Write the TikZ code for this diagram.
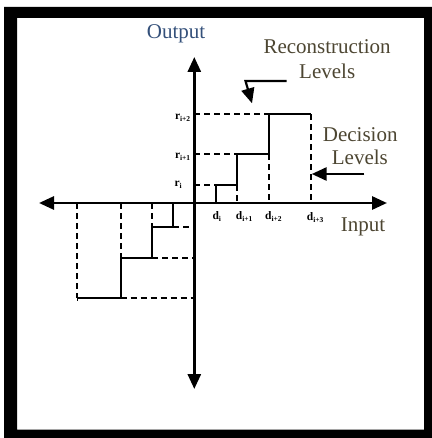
\documentclass[tikz,border=0pt]{standalone}
\usepackage{fontspec}
\setmainfont{Liberation Serif}
\usetikzlibrary{arrows.meta}
\definecolor{outblue}{HTML}{34507A}
\definecolor{olivetxt}{HTML}{4D4632}
\newcommand{\lvl}[2]{{\fontsize{11.5}{11.5}\selectfont\bfseries #1\raisebox{-2pt}{\fontsize{7.5}{7.5}\selectfont #2}}}
\begin{document}
\begin{tikzpicture}[x=1pt,y=-1pt,
  bigtip/.style={-{Triangle[length=15pt,width=13pt]}},
  axisline/.style={line width=2.8pt},
  stair/.style={line width=2pt},
  dashline/.style={line width=1.9pt,dash pattern=on 6pt off 4pt},
  bigtxt/.style={font=\fontsize{21}{24}\selectfont,inner sep=0pt},
  smalltxt/.style={inner sep=0pt,anchor=base west},
]
\useasboundingbox (0,0) rectangle (431,438);
% frame
\fill[black,even odd rule] (4,7) rectangle (432,439) (17,18) rectangle (424,429.5);

% axes
\coordinate (T) at (194.3,57);
\coordinate (B) at (194.3,389);
\coordinate (L) at (39,203);
\coordinate (R) at (387,203);
\draw[axisline,{Triangle[length=15pt,width=13pt]}-{Triangle[length=15pt,width=13pt]}] (B) -- (T);
\draw[axisline,{Triangle[length=15pt,width=13pt]}-{Triangle[length=15pt,width=13pt]}] (L) -- (R);

% positive staircase
\coordinate (p0) at (216,203);
\coordinate (p1) at (216,185);
\coordinate (p2) at (236.7,185);
\coordinate (p3) at (236.7,154.3);
\coordinate (p4) at (269.3,154.3);
\coordinate (p5) at (269.3,114.3);
\coordinate (p6) at (311,114.3);
\draw[stair] (p0) -- (p1) -- (p2) -- (p3) -- (p4) -- (p5) -- (p6);
\coordinate (a1) at (194.3,185);
\coordinate (a2) at (194.3,154.3);
\coordinate (a3) at (194.3,114.3);
\coordinate (x2) at (236.7,203);
\coordinate (x3) at (269.3,203);
\coordinate (x4) at (311,203);
\draw[dashline] (a1) -- (p1);
\draw[dashline] (a2) -- (p3);
\draw[dashline] (a3) -- (p5);
\draw[dashline] (p2) -- (x2);
\draw[dashline] (p4) -- (x3);
\draw[dashline] (p6) -- (x4);

% negative staircase
\coordinate (n0) at (173.3,203);
\coordinate (n1) at (173.3,226.7);
\coordinate (n2) at (152.3,226.7);
\coordinate (n3) at (152.3,257.7);
\coordinate (n4) at (120.7,257.7);
\coordinate (n5) at (120.7,297.7);
\coordinate (n6) at (77.3,297.7);
\draw[stair] (n0) -- (n1) -- (n2) -- (n3) -- (n4) -- (n5) -- (n6);
\coordinate (b1) at (194.3,226.7);
\coordinate (b2) at (194.3,257.7);
\coordinate (b3) at (194.3,297.7);
\coordinate (y2) at (152.3,203);
\coordinate (y3) at (120.7,203);
\coordinate (y4) at (77.3,203);
\draw[dashline] (n1) -- (b1);
\draw[dashline] (n3) -- (b2);
\draw[dashline] (n5) -- (b3);
\draw[dashline] (y2) -- (n2);
\draw[dashline] (y3) -- (n4);
\draw[dashline] (y4) -- (n6);
\draw[line width=1.4pt] (77.3,294.5) -- (77.3,301);

% level labels
\node[smalltxt] (r2) at (174.8,120) {\lvl{r}{i+2}};
\node[smalltxt] (r1) at (174.8,158.5) {\lvl{r}{i+1}};
\node[smalltxt] (r0) at (174.3,186) {\lvl{r}{i}};
\node[smalltxt] (d0) at (212.3,219) {\lvl{d}{i}};
\node[smalltxt] (d1) at (235.7,219) {\lvl{d}{i+1}};
\node[smalltxt] (d2) at (265,219) {\lvl{d}{i+2}};
\node[smalltxt] (d3) at (306.7,220.7) {\lvl{d}{i+3}};

% big labels
\node[bigtxt,anchor=base west,text=outblue] (out) at (146.7,38.3) {Output};
\node[bigtxt,anchor=base west,text=olivetxt] (rec) at (263.3,54) {Reconstruction};
\node[bigtxt,anchor=base west,text=olivetxt] (rlev) at (299,78.7) {Levels};
\node[bigtxt,anchor=base west,text=olivetxt] (dec) at (322.7,141.7) {Decision};
\node[bigtxt,anchor=base west,text=olivetxt] (dlev) at (331.7,165) {Levels};
\node[bigtxt,anchor=base west,text=olivetxt] (inp) at (340.7,231) {Input};

% pointer arrows
\coordinate (ra) at (286.7,81);
\coordinate (rb) at (245.5,81);
\coordinate (rc) at (252,103.3);
\draw[line width=2.2pt,bigtip] (ra) -- (rb) -- (rc);
\coordinate (da) at (364.3,174);
\coordinate (db) at (311.7,174);
\draw[line width=2.8pt,bigtip] (da) -- (db);
\end{tikzpicture}
\end{document}
